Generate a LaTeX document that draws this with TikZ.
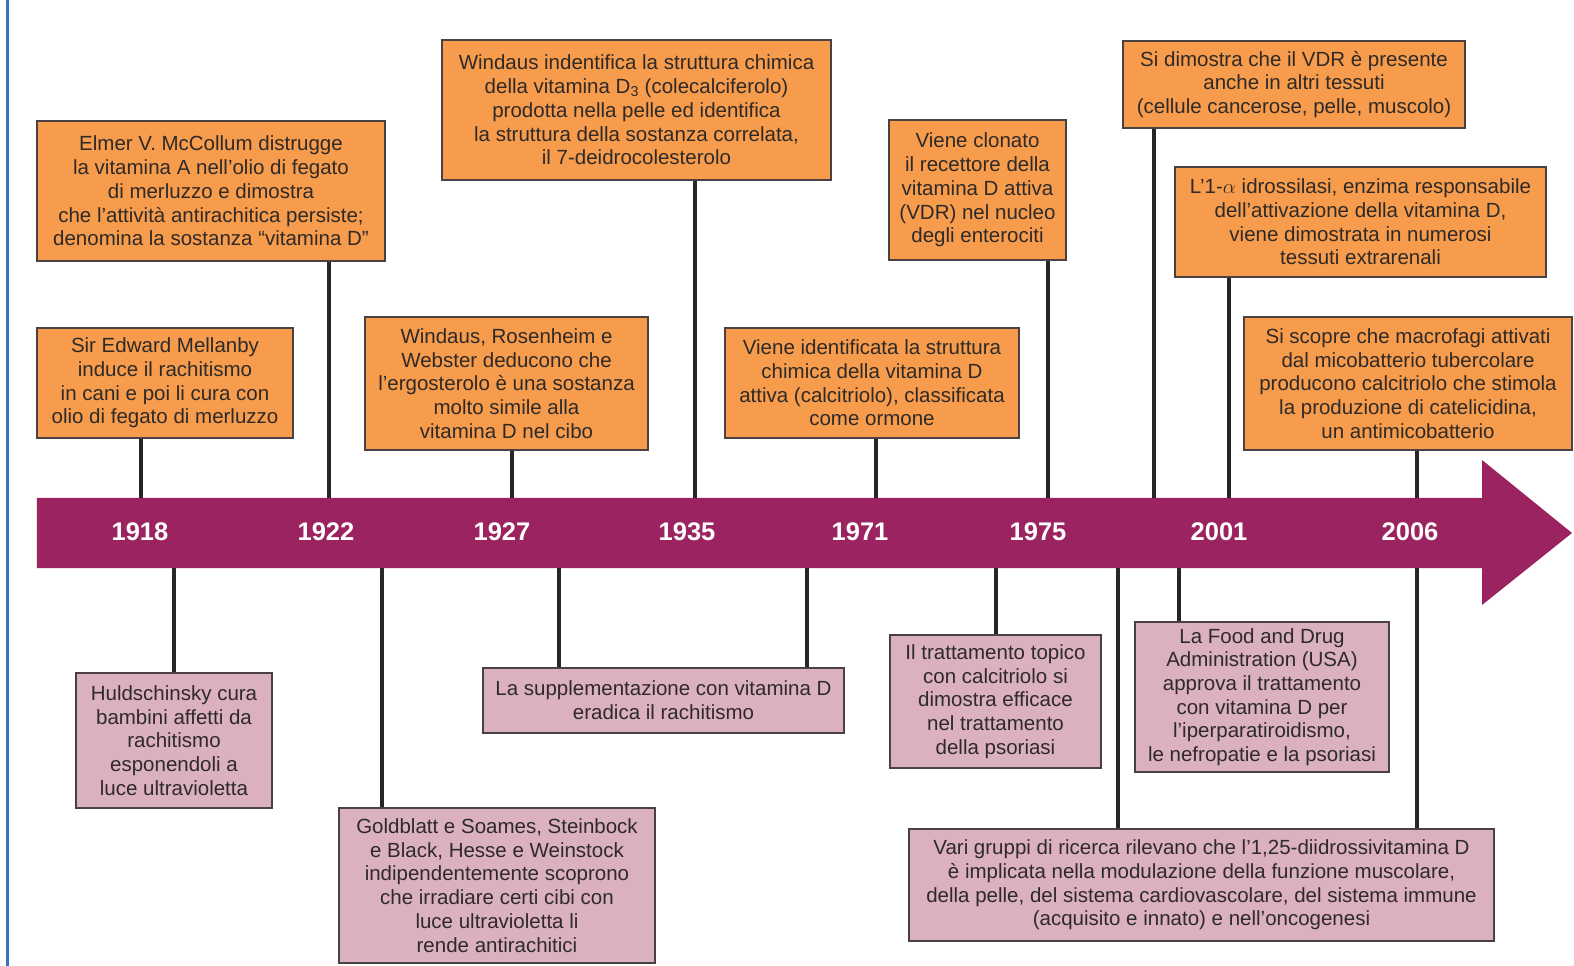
\documentclass[tikz,border=0pt]{standalone}
\usepackage{fontspec}
\setmainfont{Liberation Sans}
\definecolor{orangebox}{HTML}{F79C4C}
\definecolor{pinkbox}{HTML}{DBB1BF}
\definecolor{bandcol}{HTML}{9B235F}
\definecolor{boxline}{HTML}{4A4242}
\definecolor{txt}{HTML}{2E2A28}
\definecolor{bluebar}{HTML}{3A6FC4}
\tikzset{
  evbox/.style={draw=boxline, line width=1.8pt, inner sep=0pt, align=center, text=txt,
    font=\fontsize{20.5}{23.7}\selectfont},
  topbox/.style={evbox, fill=orangebox},
  botbox/.style={evbox, fill=pinkbox},
  conn/.style={draw=black!85, line width=3.2pt},
  yearlbl/.style={text=white, font=\fontsize{25.5}{28}\selectfont\bfseries, inner sep=0pt}
}
\begin{document}
\begin{tikzpicture}[x=1pt,y=-1pt]
\useasboundingbox (0,0) rectangle (1574,966);
\fill[white] (0,0) rectangle (1574,966);
\draw[bluebar, line width=3pt] (7,0) -- (7,966);

% band
\node[minimum width=1445pt, minimum height=70pt, inner sep=0pt] (band) at (759.5,533) {};
\fill[bandcol] (band.north west) -- (band.north east) -- (1482,460) -- (1572,533)
  -- (1482,605) -- (band.south east) -- (band.south west) -- cycle;

% years
\node[yearlbl] (y1918) at (140,532) {1918};
\node[yearlbl] (y1922) at (326,532) {1922};
\node[yearlbl] (y1927) at (502,532) {1927};
\node[yearlbl] (y1935) at (687,532) {1935};
\node[yearlbl] (y1971) at (860,532) {1971};
\node[yearlbl] (y1975) at (1038,532) {1975};
\node[yearlbl] (y2001) at (1219,532) {2001};
\node[yearlbl] (y2006) at (1410,532) {2006};

% top boxes
\node[topbox, minimum width=256pt, minimum height=110pt] (mel) at (165,383)
  {Sir Edward Mellanby\\induce il rachitismo\\in cani e poi li cura con\\olio di fegato di merluzzo};
\node[topbox, minimum width=348pt, minimum height=140pt] (mcc) at (211,191)
  {Elmer V. McCollum distrugge\\la vitamina A nell’olio di fegato\\di merluzzo e dimostra\\che l’attività antirachitica persiste;\\denomina la sostanza “vitamina D”};
\node[topbox, minimum width=283pt, minimum height=133pt] (wrw) at (506.5,383.5)
  {Windaus, Rosenheim e\\Webster deducono che\\l’ergosterolo è una sostanza\\molto simile alla\\vitamina D nel cibo};
\node[topbox, minimum width=389pt, minimum height=140pt] (wd3) at (636.5,110)
  {Windaus indentifica la struttura chimica\\della vitamina D\textsubscript{3} (colecalciferolo)\\prodotta nella pelle ed identifica\\la struttura della sostanza correlata,\\il 7-deidrocolesterolo};
\node[topbox, minimum width=294pt, minimum height=110pt] (vid) at (872,383)
  {Viene identificata la struttura\\chimica della vitamina D\\attiva (calcitriolo), classificata\\come ormone};
\node[topbox, minimum width=177pt, minimum height=140pt] (vcl) at (977.5,190)
  {Viene clonato\\il recettore della\\vitamina D attiva\\(VDR) nel nucleo\\degli enterociti};
\node[topbox, minimum width=342pt, minimum height=87pt] (vdr) at (1294,84.5)
  {Si dimostra che il VDR è presente\\anche in altri tessuti\\(cellule cancerose, pelle, muscolo)};
\node[topbox, minimum width=371pt, minimum height=110pt] (alf) at (1360.5,222)
  {L’1-$\alpha$ idrossilasi, enzima responsabile\\dell’attivazione della vitamina D,\\viene dimostrata in numerosi\\tessuti extrarenali};
\node[topbox, minimum width=328pt, minimum height=133pt] (mac) at (1408,383.5)
  {Si scopre che macrofagi attivati\\dal micobatterio tubercolare\\producono calcitriolo che stimola\\la produzione di catelicidina,\\un antimicobatterio};

% bottom boxes
\node[botbox, minimum width=196pt, minimum height=135pt] (hul) at (174,740.5)
  {Huldschinsky cura\\bambini affetti da\\rachitismo\\esponendoli a\\luce ultravioletta};
\node[botbox, minimum width=316pt, minimum height=155pt] (gol) at (497,885.5)
  {Goldblatt e Soames, Steinbock\\e Black, Hesse e Weinstock\\indipendentemente scoprono\\che irradiare certi cibi con\\luce ultravioletta li\\rende antirachitici};
\node[botbox, minimum width=361pt, minimum height=65pt] (sup) at (663.5,700.5)
  {La supplementazione con vitamina D\\eradica il rachitismo};
\node[botbox, minimum width=211pt, minimum height=133pt] (tpc) at (995.5,701.5)
  {Il trattamento topico\\con calcitriolo si\\dimostra efficace\\nel trattamento\\della psoriasi};
\node[botbox, minimum width=254pt, minimum height=150pt] (fda) at (1262,697)
  {La Food and Drug\\Administration (USA)\\approva il trattamento\\con vitamina D per\\l’iperparatiroidismo,\\le nefropatie e la psoriasi};
\node[botbox, minimum width=585pt, minimum height=112pt] (var) at (1201.5,885)
  {Vari gruppi di ricerca rilevano che l’1,25-diidrossivitamina D\\è implicata nella modulazione della funzione muscolare,\\della pelle, del sistema cardiovascolare, del sistema immune\\(acquisito e innato) e nell’oncogenesi};

% connectors above the band
\foreach \b/\x in {mel/141, mcc/329, wrw/512, wd3/695, vid/876, vcl/1048, vdr/1154, alf/1229, mac/1417}{
  \coordinate (cx) at (\x,0);
  \draw[conn] (\b.south -| cx) -- (band.north -| cx);
}
% connectors below the band
\foreach \b/\x in {hul/174, gol/382, sup/559, sup/807, tpc/996, fda/1179, var/1118, var/1417}{
  \coordinate (cx) at (\x,0);
  \draw[conn] (band.south -| cx) -- (\b.north -| cx);
}
\end{tikzpicture}
\end{document}
